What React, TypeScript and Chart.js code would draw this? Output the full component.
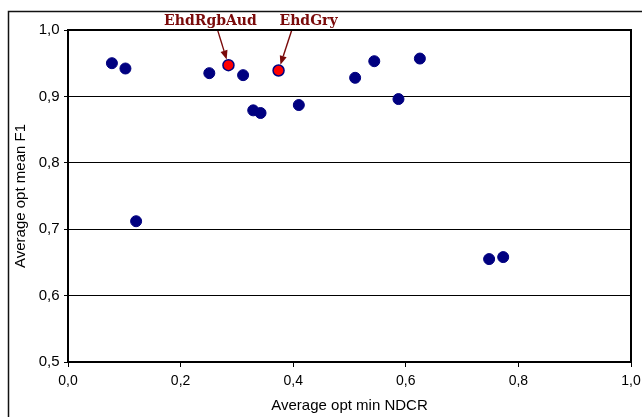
import React, { useEffect, useRef } from "react";
import { Chart, registerables } from "chart.js";

Chart.register(...registerables);

// ---- data ----
const pointX = [0.078, 0.102, 0.121, 0.251, 0.311, 0.329, 0.342, 0.41, 0.51, 0.544, 0.587, 0.625, 0.748, 0.773];
const pointY = [0.95, 0.942, 0.712, 0.935, 0.932, 0.879, 0.875, 0.887, 0.928, 0.953, 0.896, 0.957, 0.655, 0.658];

const highlightNames = ["EhdRgbAud", "EhdGry"];
const highlightX = [0.285, 0.374];
const highlightY = [0.947, 0.939];

const xTickValues = [0, 0.2, 0.4, 0.6, 0.8, 1.0];
const yTickValues = [0.5, 0.6, 0.7, 0.8, 0.9, 1.0];

const xTitle = "Average opt min NDCR";
const yTitle = "Average opt mean F1";

// label placement (pixel offsets relative to the highlighted point)
const labelOffsets = [
  { tx: -18, sx: -11, sy: -35.6 },
  { tx: 30, sx: 13.4, sy: -41 },
];

const NAVY = "#000080";
const MAROON = "#7a0a0a";
const fmt = (v: number) => v.toFixed(1).replace(".", ",");

const framePlugin = {
  id: "frame",
  beforeDraw(chart: any) {
    const { ctx } = chart;
    ctx.save();
    ctx.fillStyle = "#fff";
    ctx.fillRect(0, 0, chart.width, chart.height);
    ctx.strokeStyle = "#111";
    ctx.lineWidth = 1.5;
    ctx.beginPath();
    ctx.moveTo(8.5, chart.height);
    ctx.lineTo(8.5, 11.5);
    ctx.lineTo(chart.width, 11.5);
    ctx.stroke();
    ctx.restore();
  },
  afterDraw(chart: any) {
    const { ctx, chartArea: a } = chart;
    ctx.save();
    ctx.strokeStyle = "#000";
    ctx.lineWidth = 2;
    ctx.strokeRect(a.left, a.top, a.right - a.left, a.bottom - a.top);
    ctx.restore();
  },
};

const annotationPlugin = {
  id: "annotations",
  afterDatasetsDraw(chart: any) {
    const { ctx, scales, chartArea } = chart;
    const xs = scales.x;
    const ys = scales.y;
    ctx.save();
    highlightNames.forEach((name, i) => {
      const px = xs.getPixelForValue(highlightX[i]);
      const py = ys.getPixelForValue(highlightY[i]);
      const off = labelOffsets[i];
      // text
      ctx.fillStyle = MAROON;
      ctx.font = 'bold 14px "DejaVu Serif"';
      ctx.textAlign = "center";
      ctx.textBaseline = "alphabetic";
      ctx.fillText(name, px + off.tx, chartArea.top - 5.5);
      // arrow
      const sx = px + off.sx;
      const sy = py + off.sy;
      const dx = px - sx;
      const dy = py - sy;
      const len = Math.hypot(dx, dy);
      const ux = dx / len;
      const uy = dy / len;
      const tipX = px - ux * 6;
      const tipY = py - uy * 6;
      const headLen = 9;
      const headW = 3.6;
      const bx = tipX - ux * headLen;
      const by = tipY - uy * headLen;
      ctx.strokeStyle = MAROON;
      ctx.lineWidth = 1.4;
      ctx.beginPath();
      ctx.moveTo(sx, sy);
      ctx.lineTo(bx, by);
      ctx.stroke();
      ctx.beginPath();
      ctx.moveTo(tipX, tipY);
      ctx.lineTo(bx - uy * headW, by + ux * headW);
      ctx.lineTo(bx + uy * headW, by - ux * headW);
      ctx.closePath();
      ctx.fillStyle = MAROON;
      ctx.fill();
    });
    ctx.restore();
  },
};

export default function App() {
  const ref = useRef<HTMLCanvasElement>(null);
  useEffect(() => {
    document.body.style.margin = "0";
    const canvas = ref.current!;
    const chart = new Chart(canvas, {
      type: "scatter",
      data: {
        datasets: [
          {
            label: "runs",
            data: pointX.map((x, i) => ({ x, y: pointY[i] })),
            backgroundColor: NAVY,
            borderColor: NAVY,
            pointRadius: 5.5,
            pointBorderWidth: 1,
          },
          {
            label: "highlighted",
            data: highlightX.map((x, i) => ({ x, y: highlightY[i] })),
            backgroundColor: "#ff0000",
            borderColor: NAVY,
            pointRadius: 5.5,
            pointBorderWidth: 1.5,
          },
        ],
      },
      options: {
        responsive: false,
        animation: false,
        events: [],
        layout: { padding: { left: 0, top: 30, right: 11, bottom: 0 }, autoPadding: false },
        plugins: {
          legend: { display: false },
          tooltip: { enabled: false },
          title: { display: false },
        },
        scales: {
          x: {
            type: "linear",
            min: 0,
            max: 1,
            afterFit: (s: any) => {
              s.height = 55;
              s.paddingLeft = 0;
              s.paddingRight = 0;
            },
            afterBuildTicks: (s: any) => {
              s.ticks = xTickValues.map((v) => ({ value: v }));
            },
            grid: {
              drawOnChartArea: false,
              drawTicks: true,
              tickLength: 5,
              color: "#000",
              lineWidth: 1,
            },
            border: { display: true, color: "#000", width: 2 },
            ticks: {
              color: "#000",
              font: { family: '"Liberation Sans", Arial, sans-serif', size: 14 },
              padding: 6,
              maxRotation: 0,
              callback: (v: any) => fmt(Number(v)),
            },
            title: {
              display: true,
              text: xTitle,
              color: "#000",
              font: { family: '"Liberation Sans", Arial, sans-serif', size: 15 },
              padding: { top: 0, bottom: 2 },
            },
          },
          y: {
            type: "linear",
            min: 0.5,
            max: 1.0,
            afterFit: (s: any) => {
              s.width = 68;
              s.paddingTop = 0;
              s.paddingBottom = 0;
            },
            afterBuildTicks: (s: any) => {
              s.ticks = yTickValues.map((v) => ({ value: v }));
            },
            grid: {
              drawOnChartArea: true,
              drawTicks: true,
              tickLength: 4,
              color: "#000",
              lineWidth: 1,
            },
            border: { display: true, color: "#000", width: 2 },
            ticks: {
              color: "#000",
              font: { family: '"Liberation Sans", Arial, sans-serif', size: 15 },
              padding: 4.5,
              callback: (v: any) => fmt(Number(v)),
            },
            title: {
              display: true,
              text: yTitle,
              color: "#000",
              font: { family: '"Liberation Sans", Arial, sans-serif', size: 15 },
              padding: { top: 12, bottom: 0 },
            },
          },
        },
      },
      plugins: [framePlugin, annotationPlugin],
    } as any);
    return () => chart.destroy();
  }, []);
  return <canvas ref={ref} width={642} height={417} style={{ display: "block" }} />;
}
